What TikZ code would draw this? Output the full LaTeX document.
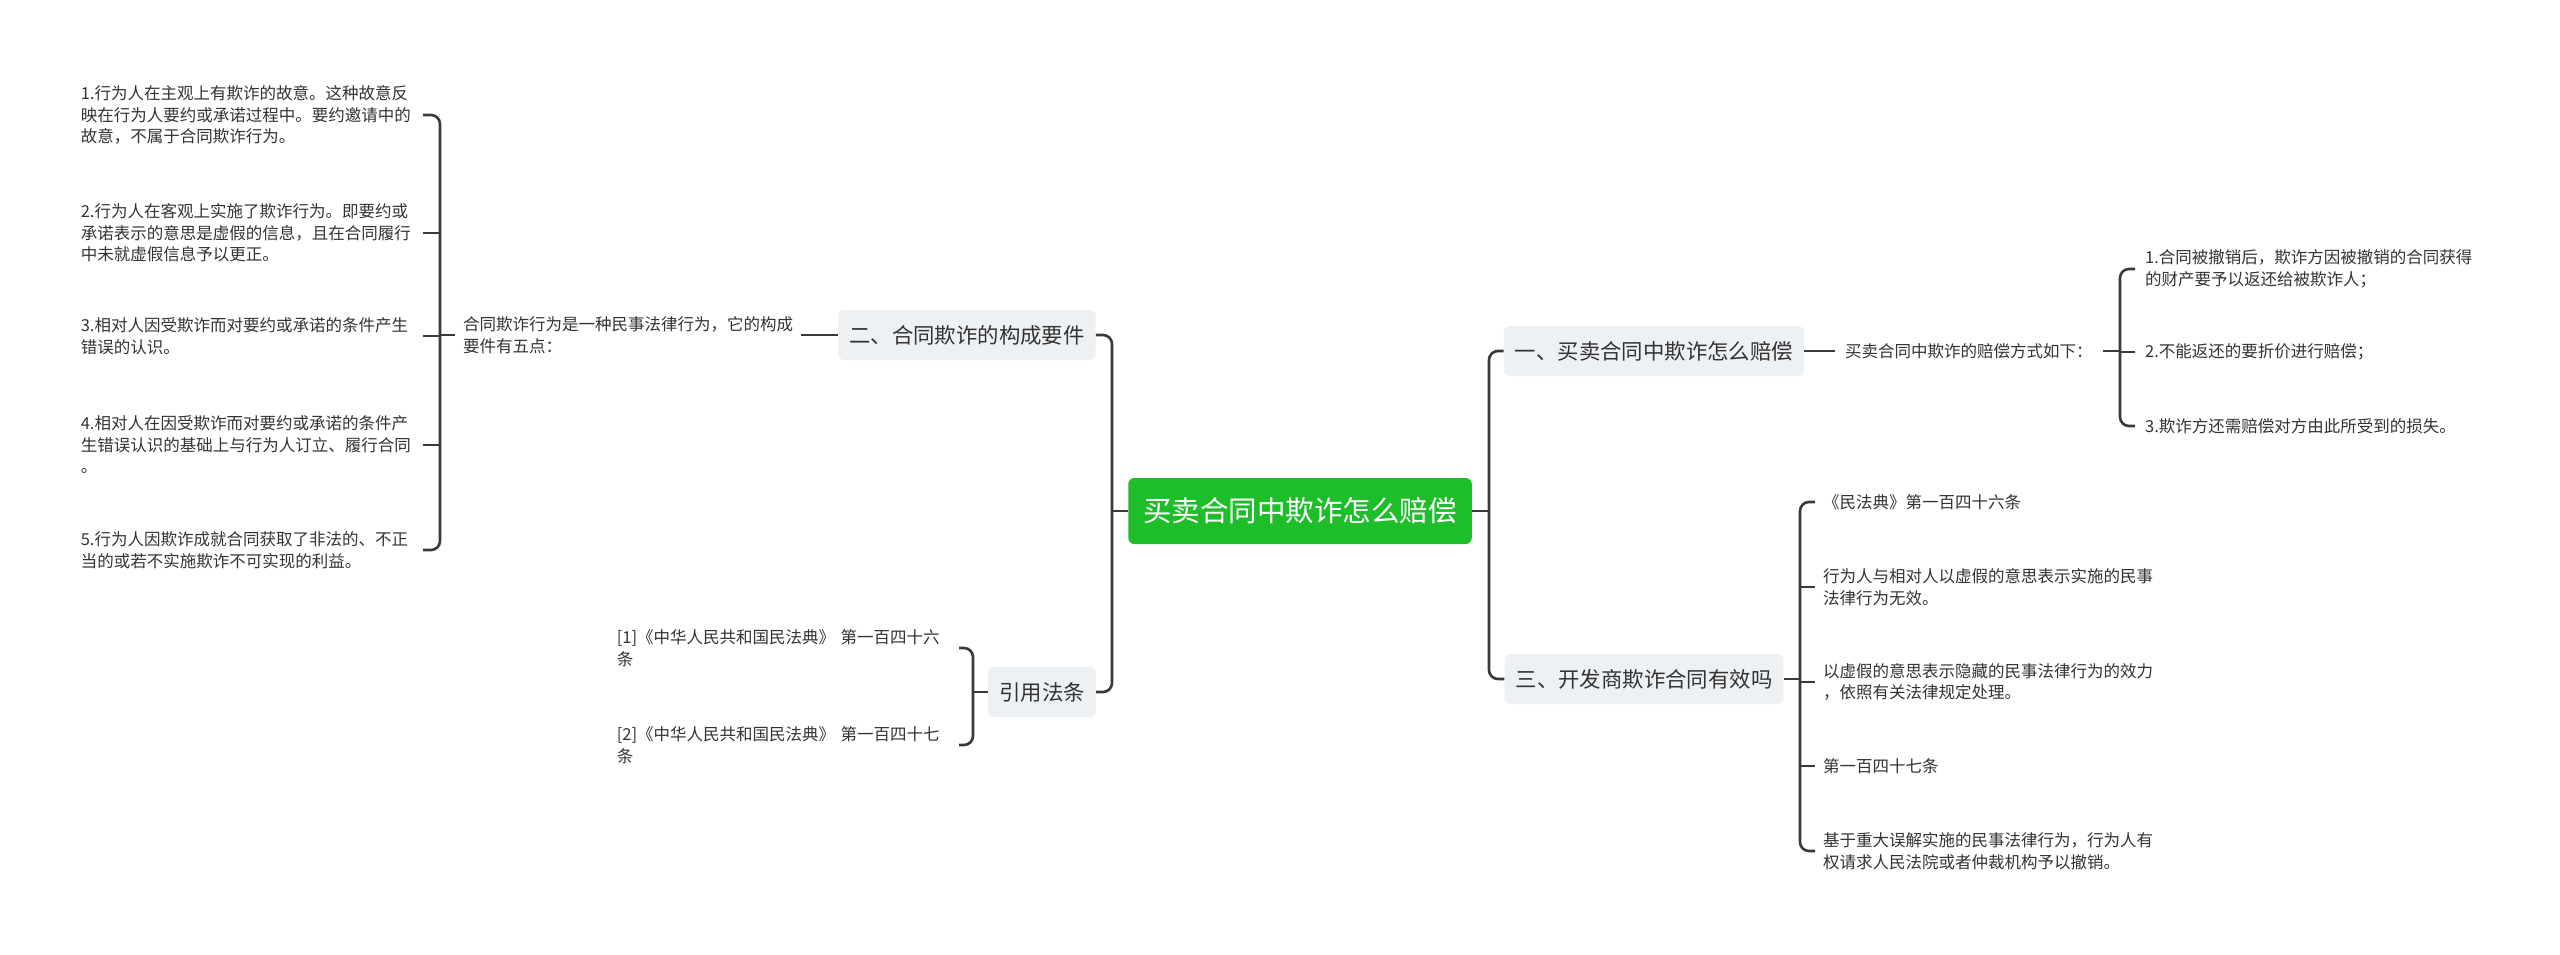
\documentclass[tikz,border=0pt]{standalone}
\usepackage{fontspec}
\setmainfont{Noto Sans CJK SC}
\definecolor{lineC}{HTML}{3A3A3A}
\definecolor{boxC}{HTML}{EEF1F4}
\definecolor{rootC}{HTML}{1EBE2B}
\definecolor{txtC}{HTML}{333333}
\tikzset{
  x=1pt, y=-1pt,
  conn/.style={draw=lineC, line width=2.6pt, rounded corners=9pt},
  leafL/.style={anchor=east, text width=334pt, align=left, inner xsep=8pt, inner ysep=3pt,
    font=\fontsize{16.5}{21.5}\selectfont, text=txtC},
  leafR/.style={anchor=west, align=left, inner xsep=8pt, inner ysep=3pt,
    font=\fontsize{16.5}{21.5}\selectfont, text=txtC},
  branch/.style={fill=boxC, rounded corners=6pt, inner xsep=11pt, minimum height=50pt,
    font=\fontsize{21.4}{26}\selectfont, text=txtC},
  rootbox/.style={fill=rootC, rounded corners=6pt, inner xsep=15pt, minimum height=66pt,
    font=\fontsize{28.5}{34}\selectfont, text=white},
}
\begin{document}
\begin{tikzpicture}
\fill[white] (0,0) rectangle (2560,954);
\useasboundingbox (0,0) rectangle (2560,954);

% left leaves
\node[leafL] (L1) at (423,115) {1.行为人在主观上有欺诈的故意。这种故意反\\映在行为人要约或承诺过程中。要约邀请中的\\故意，不属于合同欺诈行为。};
\node[leafL] (L2) at (423,233) {2.行为人在客观上实施了欺诈行为。即要约或\\承诺表示的意思是虚假的信息，且在合同履行\\中未就虚假信息予以更正。};
\node[leafL] (L3) at (423,336) {3.相对人因受欺诈而对要约或承诺的条件产生\\错误的认识。};
\node[leafL] (L4) at (423,445) {4.相对人在因受欺诈而对要约或承诺的条件产\\生错误认识的基础上与行为人订立、履行合同\\。};
\node[leafL] (L5) at (423,550) {5.行为人因欺诈成就合同获取了非法的、不正\\当的或若不实施欺诈不可实现的利益。};

\node[leafR] (P) at (455,335) {合同欺诈行为是一种民事法律行为，它的构成\\要件有五点：};
\node[branch] (B2) at (967,335) {二、合同欺诈的构成要件};
\node[branch] (B3) at (1042,692) {引用法条};
\node[leafL] (C1) at (959,648) {[1]《中华人民共和国民法典》 第一百四十六\\条};
\node[leafL] (C2) at (959,745) {[2]《中华人民共和国民法典》 第一百四十七\\条};

\node[rootbox] (R) at (1300,511) {买卖合同中欺诈怎么赔偿};

\node[branch] (B1) at (1654,351) {一、买卖合同中欺诈怎么赔偿};
\node[branch] (B4) at (1644,679) {三、开发商欺诈合同有效吗};
\node[leafR, inner xsep=10pt] (Q) at (1835,351) {买卖合同中欺诈的赔偿方式如下：};
\node[leafR, inner xsep=10pt] (I1) at (2135,269) {1.合同被撤销后，欺诈方因被撤销的合同获得\\的财产要予以返还给被欺诈人；};
\node[leafR, inner xsep=10pt] (I2) at (2135,352) {2.不能返还的要折价进行赔偿；};
\node[leafR, inner xsep=10pt] (I3) at (2135,426) {3.欺诈方还需赔偿对方由此所受到的损失。};

\node[leafR] (J1) at (1815,502) {《民法典》第一百四十六条};
\node[leafR] (J2) at (1815,587) {行为人与相对人以虚假的意思表示实施的民事\\法律行为无效。};
\node[leafR] (J3) at (1815,682) {以虚假的意思表示隐藏的民事法律行为的效力\\，依照有关法律规定处理。};
\node[leafR] (J4) at (1815,766) {第一百四十七条};
\node[leafR] (J5) at (1815,851) {基于重大误解实施的民事法律行为，行为人有\\权请求人民法院或者仲裁机构予以撤销。};

% connectors left
\coordinate (bL) at (440,335);
\draw[conn] (L1.east) -| (bL) |- (L5.east);
\draw[conn] (L2.east) -- (L2.east -| bL);
\draw[conn] (L3.east) -- (L3.east -| bL);
\draw[conn] (L4.east) -- (L4.east -| bL);
\draw[conn] (bL) -- (P.west);
\draw[conn] (P.east) -- (B2.west);

\coordinate (rL) at (1112,511);
\draw[conn] (B2.east) -| (rL) |- (B3.east);
\draw[conn] (R.west) -- (rL);

\coordinate (bC) at (973,692);
\draw[conn] (C1.east) -| (bC) |- (C2.east);
\draw[conn] (bC) -- (B3.west);

% connectors right
\coordinate (rR) at (1489,511);
\draw[conn] (B1.west) -| (rR) |- (B4.west);
\draw[conn] (R.east) -- (rR);
\draw[conn] (B1.east) -- (Q.west);

\coordinate (bQ) at (2120,352);
\draw[conn] (I1.west) -| (bQ) |- (I3.west);
\draw[conn] (I2.west) -- (I2.west -| bQ);
\draw[conn] (Q.east) -- (Q.east -| bQ);

\coordinate (bJ) at (1800,681);
\draw[conn] (J1.west) -| (bJ) |- (J5.west);
\draw[conn] (J2.west) -- (J2.west -| bJ);
\draw[conn] (J3.west) -- (J3.west -| bJ);
\draw[conn] (J4.west) -- (J4.west -| bJ);
\draw[conn] (B4.east) -- (B4.east -| bJ);
\end{tikzpicture}
\end{document}
